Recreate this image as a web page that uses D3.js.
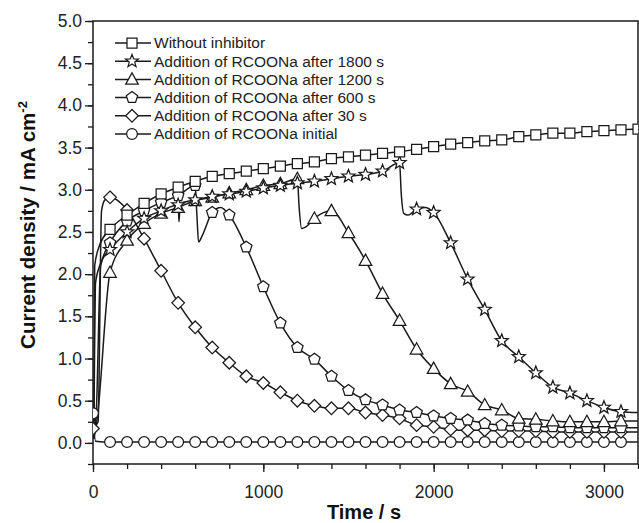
<!DOCTYPE html>
<html>
<head>
<meta charset="utf-8">
<script src="https://cdn.jsdelivr.net/npm/d3@7"></script>
<style>
  body { margin: 0; background: #fff; }
  svg { display: block; font-family: "Liberation Sans", Arial, sans-serif; }
</style>
</head>
<body>
<div id="chart"></div>
<script>
// chart size
var width = 639, height = 523;
var margin = {top: 21, right: 1, bottom: 59, left: 93};

// legend labels (top to bottom)
var legendNames = ["Without inhibitor", "Addition of RCOONa after 1800 s",
  "Addition of RCOONa after 1200 s", "Addition of RCOONa after 600 s",
  "Addition of RCOONa after 30 s", "Addition of RCOONa initial"];

// [time (s), current density (mA cm-2)]
var withoutInhibitor = [[5,0.1],[10,2.1],[40,2.35],[100,2.53],[200,2.70],[300,2.84],[400,2.95],[500,3.03],
  [600,3.10],[700,3.16],[800,3.19],[900,3.22],[1000,3.25],[1100,3.28],[1200,3.31],[1300,3.33],
  [1400,3.37],[1500,3.39],[1600,3.41],[1700,3.43],[1800,3.45],[1900,3.48],[2000,3.51],[2100,3.54],
  [2200,3.56],[2300,3.58],[2400,3.59],[2500,3.63],[2600,3.65],[2700,3.67],[2800,3.67],[2900,3.69],
  [3000,3.70],[3100,3.71],[3200,3.72]];

var after1800 = [[5,0.05],[15,1.9],[50,2.15],[100,2.29],[200,2.50],[300,2.66],[400,2.75],[500,2.82],
  [505,2.62],[512,2.84],[600,2.88],[700,2.92],[800,2.95],[900,2.98],[1000,3.02],[1100,3.05],
  [1200,3.08],[1300,3.10],[1400,3.13],[1500,3.16],[1600,3.18],[1700,3.22],[1800,3.32],[1810,2.95],
  [1825,2.72],[1850,2.70],[1900,2.77],[1950,2.79],[2000,2.73],[2100,2.37],[2200,1.94],[2300,1.58],
  [2400,1.21],[2500,1.02],[2600,0.83],[2700,0.66],[2800,0.59],[2900,0.50],[3000,0.42],[3100,0.37],
  [3199,0.36]];

var after1200 = [[5,0.05],[25,0.3],[100,2.02],[200,2.40],[300,2.60],[400,2.72],[500,2.79],[600,2.87],
  [700,2.91],[800,2.96],[900,3.00],[1000,3.05],[1100,3.07],[1200,3.13],[1210,2.8],[1225,2.54],
  [1250,2.56],[1300,2.66],[1400,2.75],[1500,2.49],[1600,2.16],[1700,1.77],[1800,1.45],[1900,1.11],
  [2000,0.88],[2100,0.70],[2200,0.61],[2300,0.45],[2400,0.39],[2500,0.29],[2600,0.28],[2700,0.26],
  [2800,0.25],[2900,0.25],[3000,0.25],[3100,0.26],[3199,0.26]];

var after600 = [[5,0.05],[20,0.4],[45,2.1],[100,2.37],[200,2.63],[300,2.75],[400,2.85],[500,2.93],
  [600,3.05],[610,2.7],[620,2.38],[640,2.45],[700,2.73],[750,2.79],[800,2.70],[900,2.32],[1000,1.85],
  [1100,1.42],[1200,1.13],[1300,0.99],[1400,0.79],[1500,0.62],[1600,0.51],[1700,0.45],[1800,0.39],
  [1900,0.36],[2000,0.32],[2100,0.29],[2200,0.27],[2300,0.23],[2400,0.21],[2500,0.20],[2600,0.19],
  [2700,0.19],[2800,0.18],[2900,0.18],[3000,0.18],[3100,0.18],[3199,0.18]];

var after30 = [[0,0.17],[30,0.25],[50,2.75],[70,2.88],[100,2.91],[200,2.76],[300,2.42],[400,2.04],
  [500,1.66],[600,1.37],[700,1.13],[800,0.95],[900,0.79],[1000,0.71],[1100,0.60],[1200,0.50],
  [1300,0.44],[1400,0.41],[1500,0.41],[1600,0.36],[1700,0.33],[1800,0.29],[1900,0.21],[2000,0.19],
  [2100,0.16],[2200,0.15],[2300,0.15],[2400,0.14],[2500,0.14],[2600,0.14],[2700,0.13],[2800,0.13],
  [2900,0.13],[3000,0.13],[3100,0.13],[3199,0.13]];

var initial = [[0,0.35],[15,0.02],[100,0.01],[200,0.01],[300,0.01],[400,0.01],[500,0.01],[600,0.01],
  [700,0.01],[800,0.01],[900,0.01],[1000,0.01],[1100,0.01],[1200,0.01],[1300,0.01],[1400,0.01],
  [1500,0.01],[1600,0.01],[1700,0.01],[1800,0.01],[1900,0.01],[2000,0.01],[2100,0.01],[2200,0.01],
  [2300,0.01],[2400,0.01],[2500,0.01],[2600,0.01],[2700,0.01],[2800,0.01],[2900,0.01],[3000,0.01],
  [3100,0.01],[3199,0.01]];

var xMajor = [0, 1000, 2000, 3000];
var yMajor = [0, 0.5, 1, 1.5, 2, 2.5, 3, 3.5, 4, 4.5, 5];

var series = [withoutInhibitor, after1800, after1200, after600, after30, initial];
var shapes = ["square", "star", "triangle", "pentagon", "diamond", "circle"];

// marker path, centred on 0,0
function shapePath(s) {
  var p = d3.path(), i, a, r;
  if (s == "square") { p.rect(-5, -5, 10, 10); }
  else if (s == "circle") { p.arc(0, 0, 5.4, 0, 2 * Math.PI); }
  else if (s == "diamond") { p.moveTo(0, -6.3); p.lineTo(6.3, 0); p.lineTo(0, 6.3); p.lineTo(-6.3, 0); p.closePath(); }
  else if (s == "triangle") { p.moveTo(0, -6.5); p.lineTo(6.3, 4.8); p.lineTo(-6.3, 4.8); p.closePath(); }
  else if (s == "pentagon") {
    for (i = 0; i < 5; i++) {
      a = -Math.PI / 2 + i * 2 * Math.PI / 5;
      if (i == 0) p.moveTo(6 * Math.cos(a), 6 * Math.sin(a)); else p.lineTo(6 * Math.cos(a), 6 * Math.sin(a));
    }
    p.closePath();
  }
  else if (s == "star") {
    for (i = 0; i < 10; i++) {
      r = i % 2 ? 2.9 : 6.8;
      a = -Math.PI / 2 + i * Math.PI / 5;
      if (i == 0) p.moveTo(r * Math.cos(a), r * Math.sin(a)); else p.lineTo(r * Math.cos(a), r * Math.sin(a));
    }
    p.closePath();
  }
  return p.toString();
}

var svg = d3.select("#chart").append("svg")
  .attr("width", width).attr("height", height);

var x = d3.scaleLinear().domain([0, 3200]).range([margin.left, width - margin.right]);
var y = d3.scaleLinear().domain([-0.25, 5]).range([height - margin.bottom, margin.top]);

svg.append("defs").append("clipPath").attr("id", "clip")
  .append("rect")
  .attr("x", margin.left).attr("y", margin.top)
  .attr("width", width - margin.right - margin.left)
  .attr("height", height - margin.bottom - margin.top);

var ink = "#1a1a1a";

// minor ticks
svg.append("g")
  .attr("transform", "translate(0," + (height - margin.bottom) + ")")
  .call(d3.axisBottom(x).tickValues(d3.range(0, 3201, 200)).tickSize(5).tickFormat(""))
  .call(function(g) { g.select(".domain").remove(); });
svg.append("g")
  .attr("transform", "translate(" + margin.left + ",0)")
  .call(d3.axisLeft(y).tickValues(d3.range(-0.25, 5.01, 0.25)).tickSize(5).tickFormat(""))
  .call(function(g) { g.select(".domain").remove(); });

// major ticks with labels
var xAxis = svg.append("g")
  .attr("transform", "translate(0," + (height - margin.bottom) + ")")
  .call(d3.axisBottom(x).tickValues(xMajor).tickSize(8).tickPadding(14).tickFormat(d3.format("d")));
var yAxis = svg.append("g")
  .attr("transform", "translate(" + margin.left + ",0)")
  .call(d3.axisLeft(y).tickValues(yMajor).tickSize(8).tickPadding(3).tickFormat(d3.format(".1f")));

[xAxis, yAxis].forEach(function(g) {
  g.select(".domain").remove();
  g.selectAll("text").style("font-size", "17.5px").attr("fill", "#222");
});
svg.selectAll(".tick line").attr("stroke", ink).attr("stroke-width", 1.3);

// frame
svg.append("rect")
  .attr("x", margin.left).attr("y", margin.top)
  .attr("width", width - margin.right - margin.left)
  .attr("height", height - margin.bottom - margin.top)
  .attr("fill", "none").attr("stroke", ink).attr("stroke-width", 1.5);

var line = d3.line()
  .x(function(d) { return x(d[0]); })
  .y(function(d) { return y(d[1]); })
  .curve(d3.curveMonotoneX);

var plot = svg.append("g").attr("clip-path", "url(#clip)");

// draw bottom curves first
for (var k = series.length - 1; k >= 0; k--) {
  plot.append("path")
    .datum(series[k])
    .attr("d", line)
    .attr("fill", "none")
    .attr("stroke", ink)
    .attr("stroke-width", 1.5);
}
for (var k = series.length - 1; k >= 0; k--) {
  plot.selectAll(".m" + k)
    .data(series[k].filter(function(d) { return d[0] % 100 == 0; }))
    .enter().append("path")
    .attr("class", "m" + k)
    .attr("transform", function(d) { return "translate(" + x(d[0]) + "," + y(d[1]) + ")"; })
    .attr("d", shapePath(shapes[k]))
    .attr("fill", "#fff")
    .attr("stroke", ink)
    .attr("stroke-width", 1.25);
}

// legend
var legend = svg.append("g");
legendNames.forEach(function(name, i) {
  var ly = 43 + i * 18.2;
  legend.append("line")
    .attr("x1", 115).attr("x2", 151).attr("y1", ly).attr("y2", ly)
    .attr("stroke", ink).attr("stroke-width", 1.5);
  legend.append("path")
    .attr("transform", "translate(132," + ly + ")")
    .attr("d", shapePath(shapes[i]))
    .attr("fill", "#fff").attr("stroke", ink).attr("stroke-width", 1.25);
  legend.append("text")
    .attr("x", 154).attr("y", ly + 5.4)
    .style("font-size", "15.5px").attr("fill", "#222")
    .text(name);
});

// axis titles
svg.append("text")
  .attr("x", 364).attr("y", 519)
  .attr("text-anchor", "middle")
  .style("font-size", "20px").style("font-weight", "bold").attr("fill", "#111")
  .text("Time / s");

var yt = svg.append("text")
  .attr("transform", "translate(35,225) rotate(-90)")
  .attr("text-anchor", "middle")
  .style("font-size", "20.5px").style("font-weight", "bold").attr("fill", "#111");
yt.append("tspan").text("Current density / mA cm");
yt.append("tspan").attr("dy", -8).style("font-size", "13px").text("-2");
</script>
</body>
</html>
